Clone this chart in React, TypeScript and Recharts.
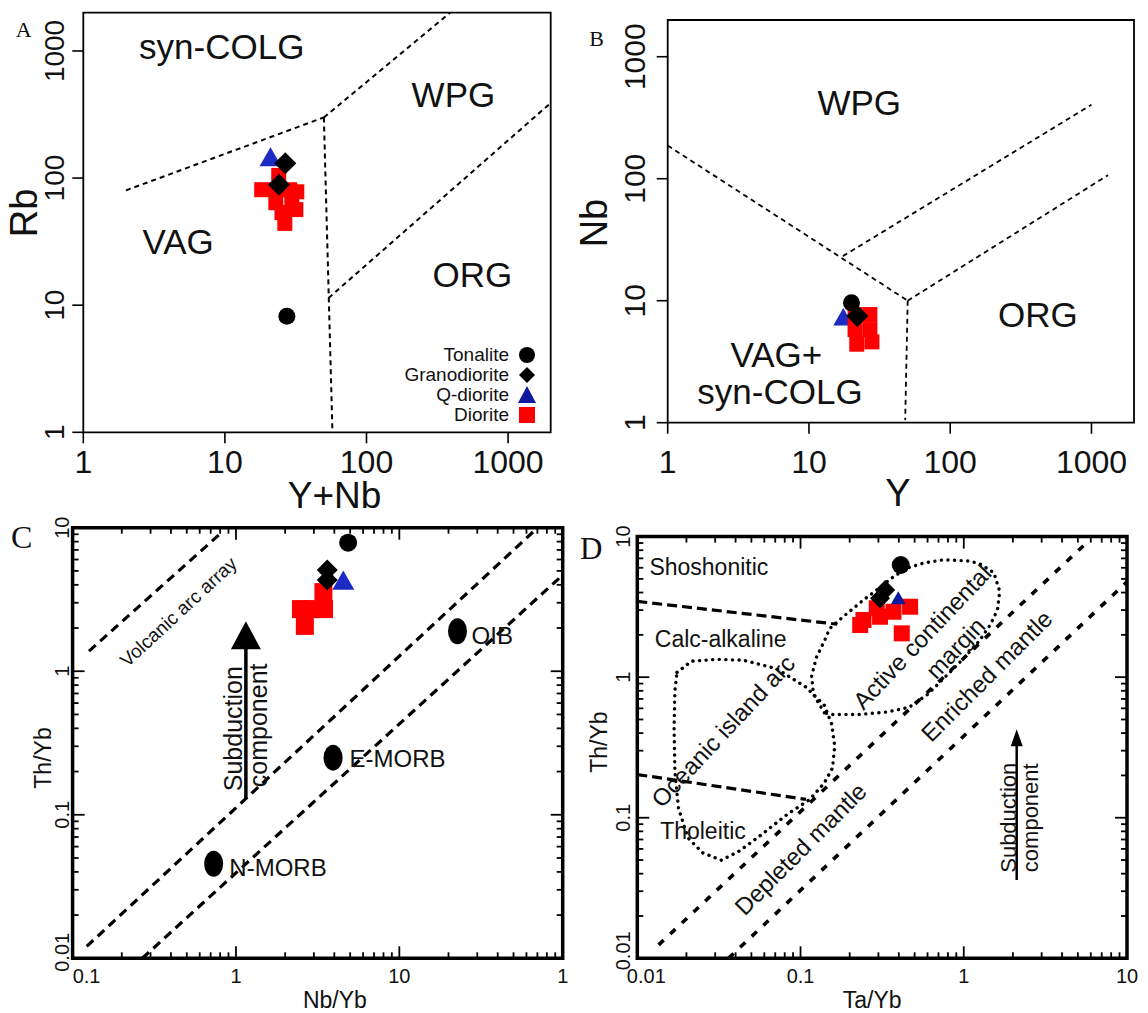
import React from 'react';
import { ScatterChart, Scatter, XAxis, YAxis, ReferenceLine, ReferenceArea, Legend } from 'recharts';

const SANS = '"Liberation Sans", Arial, Helvetica, sans-serif';
const SERIF = '"Liberation Serif", "Times New Roman", Times, serif';
const INK = '#111';
const RED = '#ff0000';
const BLUE = '#1c2bc4';

type Pt = { x: number; y: number };
type Lbl = { x: number; y: number; text: string };

// ---------------- shared ----------------
const SERIES = ['Tonalite', 'Granodiorite', 'Q-diorite', 'Diorite'];

// ---------------- Panel A : Rb vs Y+Nb ----------------
const A_TICKS = [1, 10, 100, 1000];
const aTonalite: Pt[] = [{ x: 27.4, y: 8.2 }];
const aGranodiorite: Pt[] = [{ x: 26.7, y: 131 }, { x: 24.1, y: 88.5 }];
const aQDiorite: Pt[] = [{ x: 21, y: 139 }];
const aDiorite: Pt[] = [
  { x: 24.0, y: 105 }, { x: 18.2, y: 81 }, { x: 22.9, y: 81 }, { x: 28.7, y: 81 }, { x: 32.2, y: 78 },
  { x: 22.9, y: 64 }, { x: 29.7, y: 64 }, { x: 25.3, y: 53.5 }, { x: 31.7, y: 56.5 }, { x: 26.5, y: 44 },
];
const aBoundaries: Pt[][] = [
  [{ x: 2, y: 80 }, { x: 50, y: 300 }],
  [{ x: 50, y: 300 }, { x: 390, y: 2000 }],
  [{ x: 50, y: 300 }, { x: 57.5, y: 1 }],
  [{ x: 54, y: 11.4 }, { x: 2000, y: 390 }],
];
const aFieldLabels: Lbl[] = [
  { x: 9.5, y: 1093, text: 'syn-COLG' },
  { x: 411, y: 455, text: 'WPG' },
  { x: 4.67, y: 31.8, text: 'VAG' },
  { x: 560, y: 17.4, text: 'ORG' },
];

// ---------------- Panel B : Nb vs Y ----------------
const B_TICKS = [1, 10, 100, 1000];
const bTonalite: Pt[] = [{ x: 20, y: 9.6 }];
const bGranodiorite: Pt[] = [{ x: 22, y: 7.5 }];
const bQDiorite: Pt[] = [{ x: 17.5, y: 7 }];
const bDiorite: Pt[] = [
  { x: 21.2, y: 7.7 }, { x: 27, y: 7.7 }, { x: 21.2, y: 5.8 }, { x: 27, y: 5.8 }, { x: 21.8, y: 4.4 }, { x: 27.9, y: 4.6 },
];
const bBoundaries: Pt[][] = [
  [{ x: 1, y: 187 }, { x: 50, y: 10 }],
  [{ x: 17.4, y: 23.2 }, { x: 1000, y: 404 }],
  [{ x: 50, y: 10 }, { x: 1310, y: 107 }],
  [{ x: 50, y: 10 }, { x: 48, y: 1.05 }],
];
const bFieldLabels: Lbl[] = [
  { x: 22.7, y: 425, text: 'WPG' },
  { x: 418, y: 7.7, text: 'ORG' },
  { x: 5.88, y: 3.61, text: 'VAG+' },
  { x: 6.24, y: 1.8, text: 'syn-COLG' },
];

// ---------------- Panel C : Th/Yb vs Nb/Yb ----------------
const C_X_TICKS = [0.1, 0.2, 0.3, 0.4, 0.5, 0.6, 0.7, 0.8, 0.9, 1, 2, 3, 4, 5, 6, 7, 8, 9, 10, 20, 30, 40, 50, 60, 70, 80, 90, 100];
const C_X_LABELS: Record<string, string> = { '0.1': '0.1', '1': '1', '10': '10', '100': '1' };
const LOG_Y_TICKS = [0.01, 0.02, 0.03, 0.04, 0.05, 0.06, 0.07, 0.08, 0.09, 0.1, 0.2, 0.3, 0.4, 0.5, 0.6, 0.7, 0.8, 0.9, 1, 2, 3, 4, 5, 6, 7, 8, 9, 10];
const Y_LABELS: Record<string, string> = { '0.01': '0.01', '0.1': '0.1', '1': '1', '10': '10' };
const cTonalite: Pt[] = [{ x: 4.86, y: 7.86 }];
const cGranodiorite: Pt[] = [{ x: 3.62, y: 5.07 }, { x: 3.62, y: 4.33 }];
const cQDiorite: Pt[] = [{ x: 4.54, y: 4.1 }];
const cDiorite: Pt[] = [
  { x: 3.43, y: 3.56 }, { x: 2.5, y: 2.71 }, { x: 2.92, y: 2.71 }, { x: 3.46, y: 2.71 }, { x: 2.64, y: 2.07 },
];
const cReference: Pt[] = [{ x: 22.7, y: 1.9 }, { x: 3.93, y: 0.25 }, { x: 0.73, y: 0.0456 }];
const cArrays: Pt[][] = [
  [{ x: 0.126, y: 1.38 }, { x: 0.82, y: 9.3 }],
  [{ x: 0.122, y: 0.0121 }, { x: 68.9, y: 9.8 }],
  [{ x: 0.267, y: 0.01 }, { x: 100, y: 4.68 }],
];
const cArrowShaft: Pt[] = [{ x: 1.15, y: 0.129 }, { x: 1.15, y: 1.6 }];
const cArrowTip: Pt[] = [{ x: 1.15, y: 2.23 }];
const cLabels: Lbl[] = [
  { x: 27.7, y: 1.76, text: 'OIB' },
  { x: 4.96, y: 0.248, text: 'E-MORB' },
  { x: 0.911, y: 0.043, text: 'N-MORB' },
  { x: 0.445, y: 2.59, text: 'Volcanic arc array' },
  { x: 0.958, y: 0.398, text: 'Subduction' },
  { x: 1.36, y: 0.42, text: 'component' },
];

// ---------------- Panel D : Th/Yb vs Ta/Yb ----------------
const D_X_TICKS = [0.01, 0.02, 0.03, 0.04, 0.05, 0.06, 0.07, 0.08, 0.09, 0.1, 0.2, 0.3, 0.4, 0.5, 0.6, 0.7, 0.8, 0.9, 1, 2, 3, 4, 5, 6, 7, 8, 9, 10];
const D_X_LABELS: Record<string, string> = { '0.01': '0.01', '0.1': '0.1', '1': '1', '10': '10' };
const dTonalite: Pt[] = [{ x: 0.411, y: 6.28 }];
const dGranodiorite: Pt[] = [{ x: 0.33, y: 4.17 }, { x: 0.307, y: 3.64 }];
const dQDiorite: Pt[] = [{ x: 0.397, y: 3.54 }];
const dDiorite: Pt[] = [
  { x: 0.243, y: 2.55 }, { x: 0.307, y: 2.69 }, { x: 0.371, y: 2.92 }, { x: 0.469, y: 3.17 },
  { x: 0.417, y: 2.05 }, { x: 0.293, y: 3.09 }, { x: 0.232, y: 2.35 },
];
const dSeriesBounds: Pt[][] = [
  [{ x: 0.01, y: 3.46 }, { x: 0.168, y: 2.38 }],
  [{ x: 0.01, y: 0.203 }, { x: 0.108, y: 0.135 }],
];
const dMantle: Pt[][] = [
  [{ x: 0.0135, y: 0.01245 }, { x: 5.92, y: 9.5 }],
  [{ x: 0.0362, y: 0.01 }, { x: 10, y: 4.77 }],
];
const dOceanicArc: Pt[] = [
  { x: 0.0175, y: 1.08 }, { x: 0.0215, y: 1.3 }, { x: 0.031, y: 1.34 }, { x: 0.0446, y: 1.32 }, { x: 0.0712, y: 1.15 },
  { x: 0.108, y: 0.85 }, { x: 0.14, y: 0.63 }, { x: 0.155, y: 0.466 }, { x: 0.162, y: 0.324 }, { x: 0.157, y: 0.226 },
  { x: 0.14, y: 0.177 }, { x: 0.114, y: 0.135 }, { x: 0.0832, y: 0.106 }, { x: 0.0578, y: 0.076 }, { x: 0.0423, y: 0.058 },
  { x: 0.0327, y: 0.0499 }, { x: 0.0252, y: 0.0562 }, { x: 0.0205, y: 0.0716 }, { x: 0.0179, y: 0.116 }, { x: 0.017, y: 0.212 },
  { x: 0.0168, y: 0.438 }, { x: 0.017, y: 0.8 }, { x: 0.0175, y: 1.08 },
];
const dContinentalMargin: Pt[] = [
  { x: 0.14, y: 0.558 }, { x: 0.12, y: 0.755 }, { x: 0.117, y: 1.02 }, { x: 0.125, y: 1.38 }, { x: 0.14, y: 1.81 },
  { x: 0.151, y: 2.22 }, { x: 0.183, y: 2.7 }, { x: 0.243, y: 3.54 }, { x: 0.293, y: 4.17 }, { x: 0.371, y: 5.18 },
  { x: 0.447, y: 5.95 }, { x: 0.565, y: 6.48 }, { x: 0.751, y: 6.84 }, { x: 1.06, y: 6.71 }, { x: 1.245, y: 6.44 },
  { x: 1.53, y: 5.53 }, { x: 1.66, y: 4.09 }, { x: 1.61, y: 3.03 }, { x: 1.46, y: 2.38 }, { x: 1.245, y: 1.81 },
  { x: 1.01, y: 1.38 }, { x: 0.78, y: 1.02 }, { x: 0.601, y: 0.755 }, { x: 0.463, y: 0.611 }, { x: 0.339, y: 0.565 },
  { x: 0.224, y: 0.542 }, { x: 0.155, y: 0.542 }, { x: 0.14, y: 0.558 },
];
const dArrowShaft: Pt[] = [{ x: 2.11, y: 0.0361 }, { x: 2.11, y: 0.33 }];
const dArrowTip: Pt[] = [{ x: 2.11, y: 0.426 }];
const dLabels: Lbl[] = [
  { x: 0.01186, y: 6.05, text: 'Shoshonitic' },
  { x: 0.0128, y: 1.87, text: 'Calc-alkaline' },
  { x: 0.0138, y: 0.081, text: 'Tholeitic' },
  { x: 0.0335, y: 0.414, text: 'Oceanic island arc' },
  { x: 0.555, y: 1.93, text: 'Active continental' },
  { x: 0.887, y: 1.61, text: 'margin' },
  { x: 1.38, y: 1.02, text: 'Enriched mantle' },
  { x: 0.0999, y: 0.06, text: 'Depleted mantle' },
  { x: 1.88, y: 0.1, text: 'Subduction' },
  { x: 2.57, y: 0.1, text: 'component' },
];

// ---------------- styles ----------------
type TStyle = { size: number; anchor?: 'start' | 'middle' | 'end'; angle?: number };
const AB_TEXT: Record<string, TStyle> = {
  'syn-COLG': { size: 35 }, WPG: { size: 35 }, VAG: { size: 35 }, ORG: { size: 35 }, 'VAG+': { size: 35 },
};
const C_TEXT: Record<string, TStyle> = {
  OIB: { size: 24, anchor: 'start' },
  'E-MORB': { size: 24, anchor: 'start' },
  'N-MORB': { size: 24, anchor: 'start' },
  'Volcanic arc array': { size: 19, angle: -42.8 },
  Subduction: { size: 25, angle: -90 },
  component: { size: 25, angle: -90 },
};
const D_TEXT: Record<string, TStyle> = {
  Shoshonitic: { size: 23, anchor: 'start' },
  'Calc-alkaline': { size: 23, anchor: 'start' },
  Tholeitic: { size: 23, anchor: 'start' },
  'Oceanic island arc': { size: 24, angle: -47 },
  'Active continental': { size: 24, angle: -46.5 },
  margin: { size: 24, angle: -46.5 },
  'Enriched mantle': { size: 24, angle: -45 },
  'Depleted mantle': { size: 24, angle: -45 },
  Subduction: { size: 22, angle: -90 },
  component: { size: 22, angle: -90 },
};

// ---------------- shapes ----------------
const circle = (r: number, fill: string) => (p: any) => <circle cx={p.cx} cy={p.cy} r={r} fill={fill} />;
const ellipse = (rx: number, ry: number) => (p: any) => <ellipse cx={p.cx} cy={p.cy} rx={rx} ry={ry} fill="#000" />;
const square = (s: number, fill: string) => (p: any) => (
  <rect x={p.cx - s / 2} y={p.cy - s / 2} width={s} height={s} fill={fill} />
);
const diamond = (h: number, fill: string) => (p: any) => (
  <polygon points={`${p.cx},${p.cy - h} ${p.cx + h},${p.cy} ${p.cx},${p.cy + h} ${p.cx - h},${p.cy}`} fill={fill} />
);
const triangle = (w: number, fill: string) => (p: any) => {
  const h = w * 0.87;
  return (
    <polygon
      points={`${p.cx},${p.cy - (2 * h) / 3} ${p.cx + w / 2},${p.cy + h / 3} ${p.cx - w / 2},${p.cy + h / 3}`}
      fill={fill}
    />
  );
};
const arrowHead = (w: number, h: number) => (p: any) => (
  <polygon points={`${p.cx},${p.cy} ${p.cx - w / 2},${p.cy + h} ${p.cx + w / 2},${p.cy + h}`} fill="#000" />
);
const noShape = () => <g />;
const textShape = (styles: Record<string, TStyle>) => (p: any) => {
  const t: string = (p.payload && p.payload.text) || '';
  const s = styles[t] || { size: 20 };
  const cx = p.cx;
  const cy = p.cy;
  return (
    <text
      x={cx}
      y={cy}
      fontSize={s.size}
      fontFamily={SANS}
      fill={INK}
      textAnchor={s.anchor || 'middle'}
      dominantBaseline="central"
      transform={s.angle ? `rotate(${s.angle} ${cx} ${cy})` : undefined}
    >
      {t}
    </text>
  );
};

// ---------------- ticks ----------------
const fmt = (v: number) => (v >= 1 ? String(Math.round(v)) : String(v));
const isMajor = (v: number) => Math.abs(Math.log10(v) - Math.round(Math.log10(v))) < 1e-9;

const abXTick = (base: number, fs: number) => (p: any) => (
  <g>
    <line x1={p.x} y1={p.y} x2={p.x} y2={p.y + 11} stroke="#000" strokeWidth={1.6} />
    <text x={p.x} y={p.y + base} textAnchor="middle" fontSize={fs} fontFamily={SANS} fill={INK}>
      {fmt(p.payload.value)}
    </text>
  </g>
);
const abYTick = (off: number, fs: number) => (p: any) => (
  <g>
    <line x1={p.x} y1={p.y} x2={p.x - 11} y2={p.y} stroke="#000" strokeWidth={1.6} />
    <text
      x={p.x - off}
      y={p.y}
      textAnchor="middle"
      dominantBaseline="central"
      fontSize={fs}
      fontFamily={SANS}
      fill={INK}
      transform={`rotate(-90 ${p.x - off} ${p.y})`}
    >
      {fmt(p.payload.value)}
    </text>
  </g>
);

const TICK_W = 1.8;
const cdBottomTick = (labels: Record<string, string>, base: number, fs: number, firstShift: number) => (p: any) => {
  const v = p.payload.value;
  const maj = isMajor(v);
  const lab = maj ? labels[String(v)] : undefined;
  const lx = p.index === 0 ? p.x + firstShift : p.x;
  return (
    <g>
      <line x1={p.x} y1={p.y} x2={p.x} y2={p.y - (maj ? 12 : 6)} stroke="#000" strokeWidth={TICK_W} />
      {lab !== undefined && (
        <text x={lx} y={p.y + base} textAnchor="middle" fontSize={fs} fontFamily={SANS} fill={INK}>
          {lab}
        </text>
      )}
    </g>
  );
};
const cdTopTick = (p: any) => {
  const maj = isMajor(p.payload.value);
  return <line x1={p.x} y1={p.y} x2={p.x} y2={p.y + (maj ? 12 : 6)} stroke="#000" strokeWidth={TICK_W} />;
};
const cdLeftTick = (labels: Record<string, string>, off: number, fs: number, firstShift: number) => (p: any) => {
  const v = p.payload.value;
  const maj = isMajor(v);
  const lab = maj ? labels[String(v)] : undefined;
  const ly = p.index === 0 ? p.y + firstShift : p.y;
  return (
    <g>
      <line x1={p.x} y1={p.y} x2={p.x + (maj ? 12 : 6)} y2={p.y} stroke="#000" strokeWidth={TICK_W} />
      {lab !== undefined && (
        <text
          x={p.x - off}
          y={ly}
          textAnchor="middle"
          dominantBaseline="central"
          fontSize={fs}
          fontFamily={SANS}
          fill={INK}
          transform={`rotate(-90 ${p.x - off} ${ly})`}
        >
          {lab}
        </text>
      )}
    </g>
  );
};
const cdRightTick = (p: any) => {
  const maj = isMajor(p.payload.value);
  return <line x1={p.x} y1={p.y} x2={p.x - (maj ? 12 : 6)} y2={p.y} stroke="#000" strokeWidth={TICK_W} />;
};

// ---------------- axis titles ----------------
const xTitle = (title: string, dx: number, dy: number, fs: number) => (p: any) => {
  const vb = p.viewBox || { x: 0, y: 0, width: 0, height: 0 };
  return (
    <text
      x={vb.x + vb.width / 2 + dx}
      y={vb.y + dy}
      textAnchor="middle"
      dominantBaseline="central"
      fontSize={fs}
      fontFamily={SANS}
      fill={INK}
    >
      {title}
    </text>
  );
};
const yTitle = (
  title: string, dx: number, dy: number, fs: number,
  letter: string, lx: number, ly: number, lfs: number,
) => (p: any) => {
  const vb = p.viewBox || { x: 0, y: 0, width: 0, height: 0 };
  const cx = vb.x + dx;
  const cy = vb.y + vb.height / 2 + dy;
  return (
    <g>
      <text
        x={cx}
        y={cy}
        textAnchor="middle"
        dominantBaseline="central"
        fontSize={fs}
        fontFamily={SANS}
        fill={INK}
        transform={`rotate(-90 ${cx} ${cy})`}
      >
        {title}
      </text>
      <text x={vb.x + lx} y={vb.y + ly} textAnchor="middle" dominantBaseline="central" fontSize={lfs} fontFamily={SERIF} fill={INK}>
        {letter}
      </text>
    </g>
  );
};

// ---------------- legend ----------------
const legendMarker = (name: string) => {
  if (name === 'Tonalite') return <circle cx={11} cy={10} r={8} fill="#000" />;
  if (name === 'Granodiorite') return <polygon points="11,2 19,10 11,18 3,10" fill="#000" />;
  if (name === 'Q-diorite') return <polygon points="11,1 20,18 2,18" fill="#0d1a9e" />;
  return <rect x={3} y={2} width={16} height={16} fill={RED} />;
};
const legendContent = () => (
  <div style={{ fontFamily: SANS, fontSize: 19, color: INK }}>
    {SERIES.map((name) => (
      <div key={name} style={{ display: 'flex', justifyContent: 'flex-end', alignItems: 'center', height: 20 }}>
        <span style={{ lineHeight: '20px' }}>{name}</span>
        <svg width={22} height={20} style={{ marginLeft: 7, display: 'block' }}>
          {legendMarker(name)}
        </svg>
      </div>
    ))}
  </div>
);

const NA = false;

// ---------------- panels ----------------
function PanelA() {
  return (
    <ScatterChart width={570} height={520} margin={{ top: 12.7, right: 19.3, left: 13.3, bottom: 7.7 }}>
      <XAxis
        type="number" dataKey="x" scale="log" domain={[1, 2000]} allowDataOverflow ticks={A_TICKS} interval={0}
        height={80} tickSize={0} tickMargin={0} tickLine={false} axisLine={false} tick={abXTick(41, 32)}
        label={xTitle('Y+Nb', 17.5, 63, 37)}
      />
      <YAxis
        type="number" dataKey="y" scale="log" domain={[1, 2000]} allowDataOverflow ticks={A_TICKS} interval={0}
        width={70} tickSize={0} tickMargin={0} tickLine={false} axisLine={false} tick={abYTick(29, 28)}
        label={yTitle('Rb', 10.3, -9.5, 38, 'A', 10.3, 16.5, 22)}
      />
      <ReferenceArea x1={1} x2={2000} y1={1} y2={2000} fill="none" stroke="#000" strokeWidth={1.8} ifOverflow="visible" />
      {aBoundaries.map((s, i) => (
        <ReferenceLine key={i} segment={s} stroke="#000" strokeWidth={2} strokeDasharray="5 4" ifOverflow="visible" />
      ))}
      <Scatter name="labels" data={aFieldLabels} shape={textShape(AB_TEXT)} isAnimationActive={NA} legendType="none" />
      <Scatter name="Diorite" data={aDiorite} shape={square(15, RED)} isAnimationActive={NA} />
      <Scatter name="Q-diorite" data={aQDiorite} shape={triangle(22, BLUE)} isAnimationActive={NA} />
      <Scatter name="Granodiorite" data={aGranodiorite} shape={diamond(11, '#000')} isAnimationActive={NA} />
      <Scatter name="Tonalite" data={aTonalite} shape={circle(8.5, '#000')} isAnimationActive={NA} />
      <Legend layout="vertical" align="center" verticalAlign="middle" wrapperStyle={{ left: 368, top: 345, width: 170 }} content={legendContent} />
    </ScatterChart>
  );
}

function PanelB() {
  return (
    <ScatterChart width={578} height={520} margin={{ top: 20, right: 14, left: 27.7, bottom: 17.3 }}>
      <XAxis
        type="number" dataKey="x" scale="log" domain={[1, 2000]} allowDataOverflow ticks={B_TICKS} interval={0}
        height={80} tickSize={0} tickMargin={0} tickLine={false} axisLine={false} tick={abXTick(50, 32)}
        label={xTitle('Y', -2.9, 70, 38)}
      />
      <YAxis
        type="number" dataKey="y" scale="log" domain={[1, 2000]} allowDataOverflow ticks={B_TICKS} interval={0}
        width={70} tickSize={0} tickMargin={0} tickLine={false} axisLine={false} tick={abYTick(33, 30)}
        label={yTitle('Nb', -3.7, 1.7, 38, 'B', -1, 18.3, 22)}
      />
      <ReferenceArea x1={1} x2={2000} y1={1} y2={2000} fill="none" stroke="#000" strokeWidth={1.8} ifOverflow="visible" />
      {bBoundaries.map((s, i) => (
        <ReferenceLine key={i} segment={s} stroke="#000" strokeWidth={1.8} strokeDasharray="5 4" ifOverflow="visible" />
      ))}
      <Scatter name="labels" data={bFieldLabels} shape={textShape(AB_TEXT)} isAnimationActive={NA} />
      <Scatter name="Q-diorite" data={bQDiorite} shape={triangle(20, BLUE)} isAnimationActive={NA} />
      <Scatter name="Diorite" data={bDiorite} shape={square(15, RED)} isAnimationActive={NA} />
      <Scatter name="Granodiorite" data={bGranodiorite} shape={diamond(11, '#000')} isAnimationActive={NA} />
      <Scatter name="Tonalite" data={bTonalite} shape={circle(8.5, '#000')} isAnimationActive={NA} />
    </ScatterChart>
  );
}

function PanelC() {
  return (
    <ScatterChart width={580} height={503} margin={{ top: 17.7, right: 17.3, left: 12.6, bottom: 4.7 }}>
      <XAxis
        type="number" dataKey="x" scale="log" domain={[0.1, 100]} allowDataOverflow ticks={C_X_TICKS} interval={0}
        height={50} tickSize={0} tickMargin={0} tickLine={false} axisLine={false}
        tick={cdBottomTick(C_X_LABELS, 25, 20, 14)} label={xTitle('Nb/Yb', 17.2, 41.7, 23)}
      />
      <XAxis
        xAxisId="top" orientation="top" mirror type="number" dataKey="x" scale="log" domain={[0.1, 100]} allowDataOverflow
        ticks={C_X_TICKS} interval={0} height={1} tickSize={0} tickMargin={0} tickLine={false} axisLine={false} tick={cdTopTick}
      />
      <YAxis
        type="number" dataKey="y" scale="log" domain={[0.01, 10]} allowDataOverflow ticks={LOG_Y_TICKS} interval={0}
        width={60} tickSize={0} tickMargin={0} tickLine={false} axisLine={false}
        tick={cdLeftTick(Y_LABELS, 11, 20, -6)} label={yTitle('Th/Yb', 29.9, 15, 23, 'C', 9.1, 9, 32)}
      />
      <YAxis
        yAxisId="right" orientation="right" mirror type="number" dataKey="y" scale="log" domain={[0.01, 10]} allowDataOverflow
        ticks={LOG_Y_TICKS} interval={0} width={1} tickSize={0} tickMargin={0} tickLine={false} axisLine={false} tick={cdRightTick}
      />
      <ReferenceArea x1={0.1} x2={100} y1={0.01} y2={10} fill="none" stroke="#000" strokeWidth={3.5} ifOverflow="visible" />
      {cArrays.map((s, i) => (
        <ReferenceLine key={i} segment={s} stroke="#000" strokeWidth={3.2} strokeDasharray="9 6" ifOverflow="visible" />
      ))}
      <ReferenceLine segment={cArrowShaft} stroke="#000" strokeWidth={3.5} ifOverflow="visible" />
      <Scatter name="arrow" data={cArrowTip} shape={arrowHead(30, 28)} isAnimationActive={NA} />
      <Scatter name="reference" data={cReference} shape={ellipse(9.5, 13)} isAnimationActive={NA} />
      <Scatter name="labels" data={cLabels} shape={textShape(C_TEXT)} isAnimationActive={NA} />
      <Scatter name="Diorite" data={cDiorite} shape={square(18, RED)} isAnimationActive={NA} />
      <Scatter name="Q-diorite" data={cQDiorite} shape={triangle(22, BLUE)} isAnimationActive={NA} />
      <Scatter name="Granodiorite" data={cGranodiorite} shape={diamond(10.5, '#000')} isAnimationActive={NA} />
      <Scatter name="Tonalite" data={cTonalite} shape={circle(9, '#000')} isAnimationActive={NA} />
    </ScatterChart>
  );
}

function PanelD() {
  const dotted = { stroke: '#000', strokeWidth: 3.4, strokeDasharray: '0.1 6.5', strokeLinecap: 'round' as const };
  return (
    <ScatterChart width={578} height={503} margin={{ top: 26.6, right: 21, left: 27.3, bottom: 4.7 }}>
      <XAxis
        type="number" dataKey="x" scale="log" domain={[0.01, 10]} allowDataOverflow ticks={D_X_TICKS} interval={0}
        height={50} tickSize={0} tickMargin={0} tickLine={false} axisLine={false}
        tick={cdBottomTick(D_X_LABELS, 25, 20, 9)} label={xTitle('Ta/Yb', -10, 41.7, 23)}
      />
      <XAxis
        xAxisId="top" orientation="top" mirror type="number" dataKey="x" scale="log" domain={[0.01, 10]} allowDataOverflow
        ticks={D_X_TICKS} interval={0} height={1} tickSize={0} tickMargin={0} tickLine={false} axisLine={false} tick={cdTopTick}
      />
      <YAxis
        type="number" dataKey="y" scale="log" domain={[0.01, 10]} allowDataOverflow ticks={LOG_Y_TICKS} interval={0}
        width={40} tickSize={0} tickMargin={0} tickLine={false} axisLine={false}
        tick={cdLeftTick(Y_LABELS, 14, 20, -7.5)} label={yTitle('Th/Yb', 2.2, -5.3, 23, 'D', -6, 11.4, 31)}
      />
      <YAxis
        yAxisId="right" orientation="right" mirror type="number" dataKey="y" scale="log" domain={[0.01, 10]} allowDataOverflow
        ticks={LOG_Y_TICKS} interval={0} width={1} tickSize={0} tickMargin={0} tickLine={false} axisLine={false} tick={cdRightTick}
      />
      <ReferenceArea x1={0.01} x2={10} y1={0.01} y2={10} fill="none" stroke="#000" strokeWidth={3.5} ifOverflow="visible" />
      {dMantle.map((s, i) => (
        <ReferenceLine key={'m' + i} segment={s} stroke="#000" strokeWidth={3.6} strokeDasharray="7 9" ifOverflow="visible" />
      ))}
      {dSeriesBounds.map((s, i) => (
        <ReferenceLine key={'s' + i} segment={s} stroke="#000" strokeWidth={3.2} strokeDasharray="10 5" ifOverflow="visible" />
      ))}
      <Scatter name="oceanic" data={dOceanicArc} line={dotted} lineType="joint" shape={noShape} isAnimationActive={NA} />
      <Scatter name="margin" data={dContinentalMargin} line={dotted} lineType="joint" shape={noShape} isAnimationActive={NA} />
      <ReferenceLine segment={dArrowShaft} stroke="#000" strokeWidth={2.5} ifOverflow="visible" />
      <Scatter name="arrow" data={dArrowTip} shape={arrowHead(12, 17)} isAnimationActive={NA} />
      <Scatter name="labels" data={dLabels} shape={textShape(D_TEXT)} isAnimationActive={NA} />
      <Scatter name="Diorite" data={dDiorite} shape={square(16, RED)} isAnimationActive={NA} />
      <Scatter name="Granodiorite" data={dGranodiorite} shape={diamond(10, '#000')} isAnimationActive={NA} />
      <Scatter name="Q-diorite" data={dQDiorite} shape={triangle(15, '#0d1a9e')} isAnimationActive={NA} />
      <Scatter name="Tonalite" data={dTonalite} shape={circle(9, '#000')} isAnimationActive={NA} />
    </ScatterChart>
  );
}

export default function App() {
  return (
    <div style={{ position: 'absolute', left: 0, top: 0, width: 1148, height: 1013, background: '#fff', overflow: 'hidden' }}>
      <div style={{ position: 'absolute', left: 0, top: 0 }}>
        <PanelA />
      </div>
      <div style={{ position: 'absolute', left: 570, top: 0 }}>
        <PanelB />
      </div>
      <div style={{ position: 'absolute', left: 0, top: 510 }}>
        <PanelC />
      </div>
      <div style={{ position: 'absolute', left: 570, top: 510 }}>
        <PanelD />
      </div>
    </div>
  );
}
